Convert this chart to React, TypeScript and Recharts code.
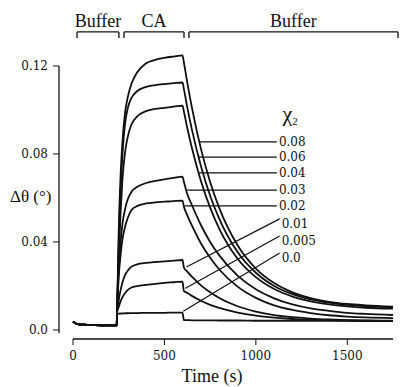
import { LineChart, Line, XAxis, YAxis, ReferenceLine, ReferenceDot } from 'recharts'

// time points (s)
const time = [0, 20, 60, 120, 180, 239, 241, 250, 260, 270, 285, 300, 320, 350, 400, 450, 500, 550, 599, 606, 625, 650, 700, 750, 800, 900, 1000, 1100, 1200, 1300, 1400, 1500, 1600, 1750]

// shared baseline before injection
const baseline = [0.0038, 0.0028, 0.0024, 0.0022, 0.0021, 0.0021]

// delta theta for each chi_2 value
const s080 = [...baseline, 0.008, 0.045, 0.070, 0.085, 0.099, 0.106, 0.112, 0.117, 0.1212, 0.1228, 0.1237, 0.1243, 0.1248, 0.1218, 0.1124, 0.1012, 0.0822, 0.0673, 0.0554, 0.0385, 0.0279, 0.0213, 0.0171, 0.0145, 0.0128, 0.0118, 0.0112, 0.0106]
const s060 = [...baseline, 0.008, 0.040, 0.063, 0.079, 0.094, 0.101, 0.1055, 0.1085, 0.1105, 0.1113, 0.1118, 0.1122, 0.1125, 0.1097, 0.1012, 0.0912, 0.0744, 0.0610, 0.0505, 0.0354, 0.0260, 0.0200, 0.0163, 0.0139, 0.0124, 0.0114, 0.0108, 0.0102]
const s040 = [...baseline, 0.008, 0.033, 0.053, 0.068, 0.081, 0.088, 0.0935, 0.097, 0.0995, 0.1005, 0.101, 0.1015, 0.102, 0.0995, 0.0918, 0.0828, 0.0676, 0.0556, 0.0460, 0.0324, 0.0240, 0.0186, 0.0152, 0.0130, 0.0116, 0.0107, 0.0101, 0.0097]
const s030 = [...baseline, 0.008, 0.028, 0.040, 0.048, 0.055, 0.0595, 0.0628, 0.065, 0.0668, 0.0678, 0.0685, 0.0691, 0.0697, 0.0675, 0.0618, 0.0568, 0.0476, 0.0400, 0.0339, 0.0247, 0.0185, 0.0144, 0.0116, 0.0098, 0.0087, 0.0078, 0.0073, 0.0068]
const s020 = [...baseline, 0.008, 0.024, 0.034, 0.041, 0.047, 0.051, 0.0545, 0.0563, 0.0575, 0.058, 0.0583, 0.0586, 0.0588, 0.0562, 0.0521, 0.0475, 0.0393, 0.0328, 0.0275, 0.0197, 0.0146, 0.0112, 0.0091, 0.0077, 0.0067, 0.0061, 0.0057, 0.0054]
const s010 = [...baseline, 0.008, 0.0135, 0.018, 0.0215, 0.025, 0.027, 0.0288, 0.0298, 0.0305, 0.0309, 0.0312, 0.0315, 0.0318, 0.0285, 0.0265, 0.0242, 0.0203, 0.0171, 0.0145, 0.0108, 0.0084, 0.0068, 0.0058, 0.0052, 0.0048, 0.0045, 0.0043, 0.0042]
const s005 = [...baseline, 0.008, 0.0105, 0.013, 0.0148, 0.0168, 0.0182, 0.0193, 0.0199, 0.0205, 0.021, 0.0214, 0.0217, 0.022, 0.0178, 0.0168, 0.0155, 0.0133, 0.0114, 0.0100, 0.0079, 0.0065, 0.0056, 0.0050, 0.0047, 0.0045, 0.0043, 0.0042, 0.0041]
const s000 = [...baseline, 0.0072, 0.0074, 0.0075, 0.0075, 0.0076, 0.0076, 0.0077, 0.0077, 0.0078, 0.0078, 0.0078, 0.0079, 0.0079, 0.0045, 0.0045, 0.0044, 0.0044, 0.0044, 0.0043, 0.0043, 0.0042, 0.0042, 0.0042, 0.0041, 0.0041, 0.0041, 0.0040, 0.0040]

const seriesKeys = ['s080', 's060', 's040', 's030', 's020', 's010', 's005', 's000']
const seriesValues = [s080, s060, s040, s030, s020, s010, s005, s000]

const data = time.map((t, i) => {
  const row: any = { t }
  seriesKeys.forEach((k, j) => { row[k] = seriesValues[j][i] })
  return row
})

// pointer lines from the curves to the chi_2 labels
const pointers = [
  { name: '0.08', x1: 690, y1: 0.0855, x2: 1115, y2: 0.0855 },
  { name: '0.06', x1: 686, y1: 0.0786, x2: 1115, y2: 0.0786 },
  { name: '0.04', x1: 684, y1: 0.0714, x2: 1115, y2: 0.0714 },
  { name: '0.03', x1: 625, y1: 0.0636, x2: 1115, y2: 0.0636 },
  { name: '0.02', x1: 610, y1: 0.0564, x2: 1115, y2: 0.0564 },
  { name: '0.01', x1: 620, y1: 0.0286, x2: 1130, y2: 0.0505 },
  { name: '0.005', x1: 615, y1: 0.019, x2: 1130, y2: 0.0427 },
  { name: '0.0', x1: 603, y1: 0.0085, x2: 1130, y2: 0.035 },
]

// phase brackets along the top
const phases = [
  { name: 'Buffer', from: 22, to: 251 },
  { name: 'CA', from: 279, to: 607 },
  { name: 'Buffer', from: 634, to: 1777 },
]

const xTicks = [0, 500, 1000, 1500]
const yTicks = [0, 0.04, 0.08, 0.12]

const X_MIN = -76.6
const X_MAX = 1750
const Y_MIN = -0.0041
const Y_MAX = 0.1409
const BR_Y = 0.1355
const BR_TICK = 0.1327

const ink = '#111'
const numFont = "'DejaVu Serif', serif"
const wordFont = "'Liberation Serif', serif"

const App = () => {
  return (
    <div style={{ position: 'absolute', left: 0, top: 0, background: '#fff', fontFamily: wordFont }}>
      <LineChart width={403} height={387} data={data} margin={{ top: 20, right: 10, bottom: 0, left: 0 }}>
        <XAxis
          dataKey="t"
          type="number"
          domain={[X_MIN, X_MAX]}
          ticks={xTicks}
          axisLine={false}
          tickSize={6}
          tickMargin={6}
          height={48}
          stroke={ink}
          tick={{ fill: ink, fontSize: 12, style: { fontFamily: numFont } }}
          label={{
            content: () => (
              <text x={212} y={382} textAnchor="middle" fontSize={18} style={{ fontFamily: wordFont }} fill={ink}>Time (s)</text>
            ),
          }}
        />
        <YAxis
          type="number"
          domain={[Y_MIN, Y_MAX]}
          ticks={yTicks}
          width={59}
          axisLine={false}
          tickSize={6}
          tickMargin={5}
          stroke={ink}
          tick={{ fill: ink, fontSize: 12, style: { fontFamily: numFont } }}
          tickFormatter={(v: number) => (v === 0 ? '0.0' : v.toFixed(2))}
          label={{
            content: () => (
              <text x={10} y={202} fontSize={17} style={{ fontFamily: wordFont }} fill={ink}>Δθ (°)</text>
            ),
          }}
        />

        {/* axis lines */}
        <ReferenceLine segment={[{ x: 0, y: Y_MIN }, { x: X_MAX, y: Y_MIN }]} stroke={ink} strokeWidth={1.3} ifOverflow="visible" />
        <ReferenceLine segment={[{ x: X_MIN, y: -0.0015 }, { x: X_MIN, y: 0.12 }]} stroke={ink} strokeWidth={1.3} ifOverflow="visible" />

        {/* phase brackets */}
        {phases.map((p, i) => (
          <ReferenceLine
            key={'ph' + i}
            segment={[{ x: p.from, y: BR_Y }, { x: p.to, y: BR_Y }]}
            stroke={ink}
            strokeWidth={1.3}
            ifOverflow="visible"
            label={(props: any) => {
              const vb = props.viewBox || {}
              return (
                <text x={(vb.x || 0) + (vb.width || 0) / 2} y={(vb.y || 0) - 5} textAnchor="middle" fontSize={18} style={{ fontFamily: wordFont }} fill={ink}>
                  {p.name}
                </text>
              )
            }}
          />
        ))}
        {phases.map((p, i) => (
          <ReferenceLine key={'pl' + i} segment={[{ x: p.from, y: BR_Y }, { x: p.from, y: BR_TICK }]} stroke={ink} strokeWidth={1.3} ifOverflow="visible" />
        ))}
        {phases.map((p, i) => (
          <ReferenceLine key={'pr' + i} segment={[{ x: p.to, y: BR_Y }, { x: p.to, y: BR_TICK }]} stroke={ink} strokeWidth={1.3} ifOverflow="visible" />
        ))}

        {/* pointer lines + labels */}
        {pointers.map((p) => (
          <ReferenceLine
            key={'pt' + p.name}
            segment={[{ x: p.x1, y: p.y1 }, { x: p.x2, y: p.y2 }]}
            stroke={ink}
            strokeWidth={1.2}
            ifOverflow="visible"
            label={(props: any) => {
              const vb = props.viewBox || {}
              const dy = p.y1 === p.y2 ? 0 : 5
              return (
                <text
                  x={(vb.x || 0) + (vb.width || 0) + 2}
                  y={(vb.y || 0) + dy}
                  dominantBaseline="central"
                  fontSize={12}
                  style={{ fontFamily: numFont }}
                  fill={ink}
                >
                  {p.name}
                </text>
              )
            }}
          />
        ))}

        <ReferenceDot
          x={1146}
          y={0.0973}
          r={0}
          fill="none"
          stroke="none"
          ifOverflow="visible"
          label={(props: any) => {
            const vb = props.viewBox || {}
            return (
              <text x={vb.x || 0} y={(vb.y || 0) + 5} fontSize={22} style={{ fontFamily: wordFont }} fill={ink}>
                χ<tspan dy={4} fontSize={11}>2</tspan>
              </text>
            )
          }}
        />

        {seriesKeys.map((k) => (
          <Line
            key={k}
            type="monotone"
            dataKey={k}
            stroke={ink}
            strokeWidth={1.8}
            dot={false}
            isAnimationActive={false}
          />
        ))}
      </LineChart>
    </div>
  )
}

export default App
